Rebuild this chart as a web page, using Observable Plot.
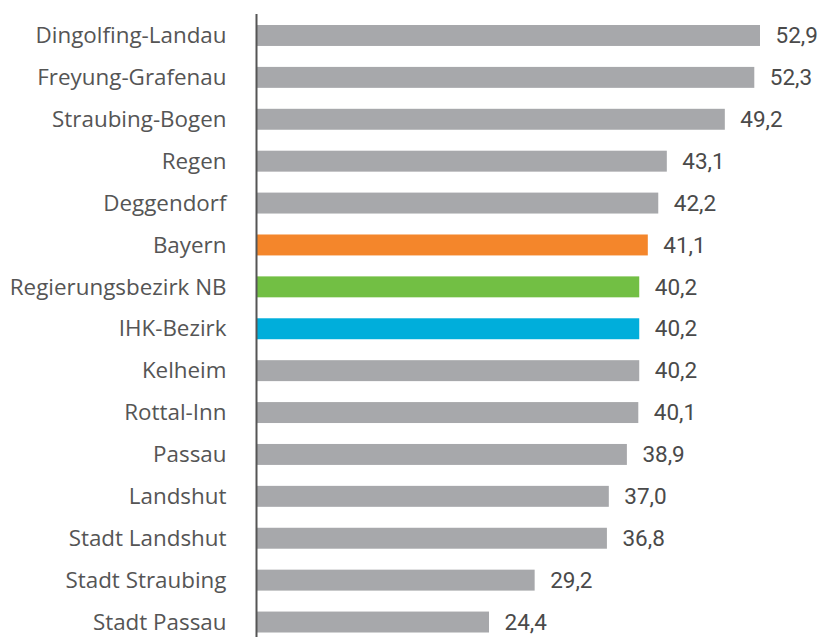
<!DOCTYPE html>
<html>
<head>
<meta charset="utf-8">
<script src="https://cdn.jsdelivr.net/npm/d3@7"></script>
<script src="https://cdn.jsdelivr.net/npm/@observablehq/plot@0.6"></script>
<style>
  html, body { margin: 0; padding: 0; background: #fff; }
  #chart svg { display: block; }
</style>
</head>
<body>
<div id="chart"></div>
<script>
const categories = [
  "Dingolfing-Landau", "Freyung-Grafenau", "Straubing-Bogen", "Regen", "Deggendorf",
  "Bayern", "Regierungsbezirk NB", "IHK-Bezirk", "Kelheim", "Rottal-Inn",
  "Passau", "Landshut", "Stadt Landshut", "Stadt Straubing", "Stadt Passau"
];
const values = [52.9, 52.3, 49.2, 43.1, 42.2, 41.1, 40.2, 40.2, 40.2, 40.1, 38.9, 37.0, 36.8, 29.2, 24.4];
const groups = ["Kreis", "Kreis", "Kreis", "Kreis", "Kreis", "Bayern", "NB", "IHK", "Kreis", "Kreis", "Kreis", "Kreis", "Kreis", "Kreis", "Kreis"];
const groupNames = ["Kreis", "Bayern", "NB", "IHK"];
const groupColors = ["#a7a8ab", "#f4862b", "#72bf44", "#00aedb"];

const data = categories.map((c, i) => ({ name: c, value: values[i], group: groups[i] }));
const fmt = v => v.toFixed(1).replace(".", ",");

const chart = Plot.plot({
  width: 822,
  height: 637,
  marginLeft: 257,
  marginRight: 62,
  marginTop: 14,
  marginBottom: 0,
  style: { fontFamily: "'Open Sans', sans-serif", background: "#fff" },
  x: { domain: [0, 52.9], axis: null },
  y: { domain: categories, round: false, paddingInner: 0.5, paddingOuter: 0.185, align: 0.71, label: null },
  color: { domain: groupNames, range: groupColors },
  marks: [
    Plot.barX(data, { x: "value", y: "name", fill: "group" }),
    Plot.text(data, { x: "value", y: "name", text: d => fmt(d.value), textAnchor: "start", dx: 15, fill: "#4a4a4a", fontSize: 22.5, fontFamily: "Roboto, sans-serif" }),
    Plot.ruleX([0], { stroke: "#555", strokeWidth: 2, dx: -1 }),
    Plot.axisY({ tickSize: 0, tickPadding: 31, fontSize: 22.4, color: "#555", label: null })
  ]
});
document.getElementById("chart").append(chart);
</script>
</body>
</html>
